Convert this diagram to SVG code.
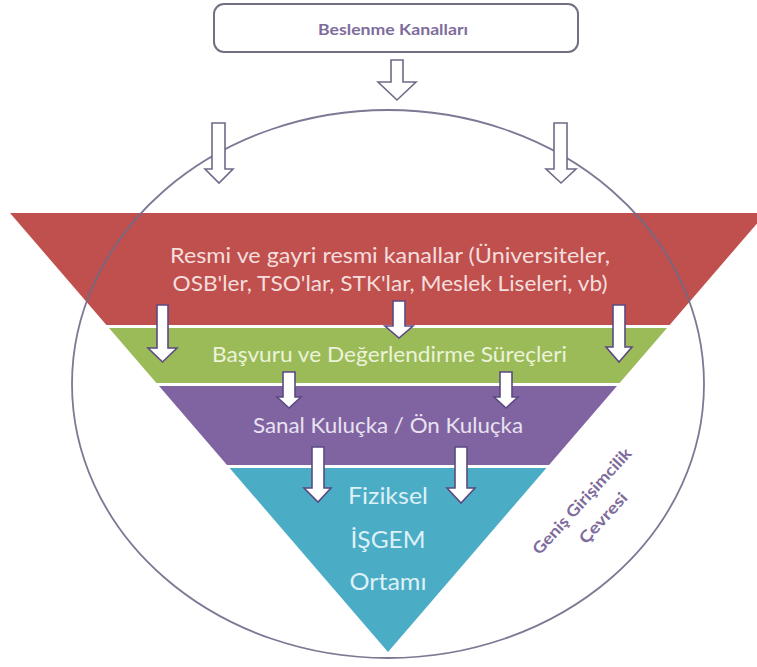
<svg xmlns="http://www.w3.org/2000/svg" width="757" height="667" viewBox="0 0 757 667">
<defs>
<style>
.band-text{font-family:Lato,"Open Sans","Liberation Sans",sans-serif;text-anchor:middle}
.hollow{fill:#ffffff;stroke:#6E6A88;stroke-width:1.6;stroke-linejoin:miter}
.white{fill:#ffffff;stroke:#5B4A80;stroke-width:1.6;stroke-linejoin:miter}
.label{font-family:Lato,"Open Sans","Liberation Sans",sans-serif;font-weight:bold;fill:#7E6C9C}
</style>
</defs>
<rect width="757" height="667" fill="#ffffff"/>

<g id="funnel">
<g id="band-red">
<polygon points="10,213 766,213 669.6,325 106.4,325" fill="#C0504D"/>
<text class="band-text" x="390" y="263" font-size="22" fill="#F4DEDD" textLength="440" lengthAdjust="spacingAndGlyphs">Resmi ve gayri resmi kanallar (Üniversiteler,</text>
<text class="band-text" x="390" y="291" font-size="22" fill="#F4DEDD" textLength="435" lengthAdjust="spacingAndGlyphs">OSB'ler, TSO'lar, STK'lar, Meslek Liseleri, vb)</text>
</g>
<g id="band-green">
<polygon points="109,328 667,328 619.6,383 156.4,383" fill="#9BBB59"/>
<text class="band-text" x="389.5" y="362" font-size="21" fill="#EBF3DA" textLength="355" lengthAdjust="spacingAndGlyphs">Başvuru ve Değerlendirme Süreçleri</text>
</g>
<g id="band-purple">
<polygon points="159,386 617,386 549,465 227,465" fill="#8064A2"/>
<text class="band-text" x="388" y="433" font-size="21" fill="#E8E2F0" textLength="270" lengthAdjust="spacingAndGlyphs">Sanal Kuluçka / Ön Kuluçka</text>
</g>
<g id="band-teal">
<polygon points="229.6,468 546.4,468 388,652" fill="#4BACC6"/>
<text class="band-text" x="388" y="504" font-size="23" fill="#DDF1F6" textLength="80" lengthAdjust="spacingAndGlyphs">Fiziksel</text>
<text class="band-text" x="388" y="548" font-size="23" fill="#DDF1F6" textLength="75" lengthAdjust="spacingAndGlyphs">İŞGEM</text>
<text class="band-text" x="388" y="590" font-size="23" fill="#DDF1F6" textLength="77" lengthAdjust="spacingAndGlyphs">Ortamı</text>
</g>
</g>

<g id="environment">
<ellipse cx="388" cy="384" rx="316" ry="274" fill="none" stroke="#6E6A88" stroke-width="1.8" stroke-opacity="0.9"/>
<g transform="translate(586,505) rotate(-47.5)">
<text class="label" x="0" y="0" font-size="16" text-anchor="middle" textLength="138" lengthAdjust="spacingAndGlyphs">Geniş Girişimcilik</text>
<text class="label" x="2" y="27" font-size="16" text-anchor="middle" textLength="63" lengthAdjust="spacingAndGlyphs">Çevresi</text>
</g>
</g>

<g id="source">
<rect x="214" y="4" width="364" height="48" rx="10" ry="10" fill="#ffffff" stroke="#707080" stroke-width="2"/>
<text class="label" x="393" y="35" font-size="15" text-anchor="middle" textLength="150" lengthAdjust="spacingAndGlyphs">Beslenme Kanalları</text>
</g>

<g id="connectors">
<path class="hollow" d="M391,60 H403 V82 H416 L397,100 L378,82 H391 Z"/>
<path class="hollow" d="M212,123 H225 V169 H233 L219,183 L205,169 H212 Z"/>
<path class="hollow" d="M554,123 H567 V169 H576 L561,183 L546,169 H554 Z"/>

<path class="white" d="M157,305 H168 V348 H177 L162.5,362 L148,348 H157 Z"/>
<path class="white" d="M393,301 H405 V326 H413 L399,338 L385,326 H393 Z"/>
<path class="white" d="M613,305 H625 V347 H632 L619,362 L606,347 H613 Z"/>

<path class="white" d="M283,372 H295 V397 H301 L289,408 L277,397 H283 Z"/>
<path class="white" d="M500,372 H512 V397 H518 L506,408 L494,397 H500 Z"/>

<path class="white" d="M312,447 H324 V488 H331 L318,502 L304,488 H312 Z"/>
<path class="white" d="M455,447 H467 V488 H475 L461,503 L447,488 H455 Z"/>
</g>
</svg>
